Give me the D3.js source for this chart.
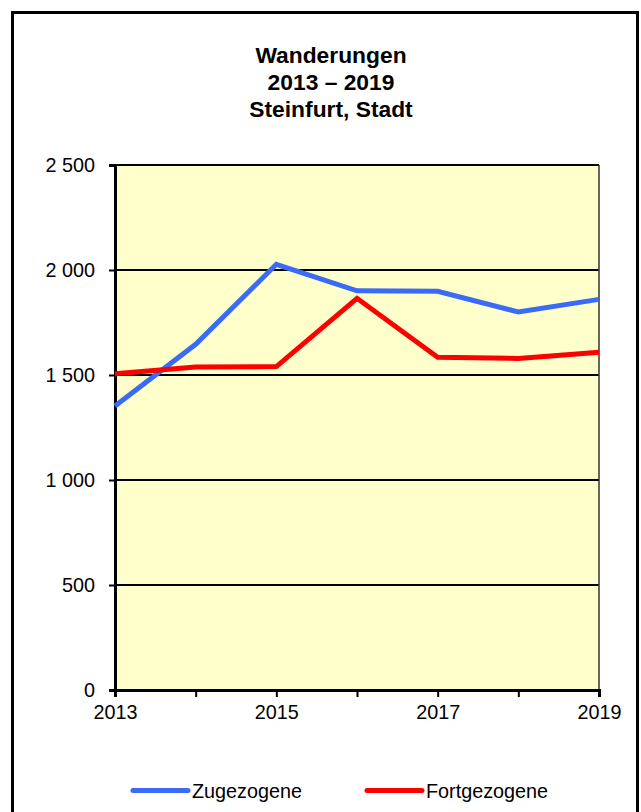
<!DOCTYPE html>
<html>
<head>
<meta charset="utf-8">
<script src="https://cdn.jsdelivr.net/npm/d3@7"></script>
<style>
  html, body { margin: 0; padding: 0; background: #fff; }
  svg { display: block; font-family: "Liberation Sans", Arial, sans-serif; }
</style>
</head>
<body>
<svg id="chart" width="641" height="812"></svg>
<script>
const years = [2013, 2014, 2015, 2016, 2017, 2018, 2019];
const zugezogene = [1352, 1646, 2027, 1901, 1899, 1800, 1860];
const fortgezogene = [1506, 1538, 1540, 1865, 1584, 1579, 1608];
const yTicks = [0, 500, 1000, 1500, 2000, 2500];
const xLabelYears = [2013, 2015, 2017, 2019];
const titleLines = ["Wanderungen", "2013 \u2013 2019", "Steinfurt, Stadt"];
const seriesNames = ["Zugezogene", "Fortgezogene"];
const seriesColors = ["#3a6af8", "#ff0000"];

(function () {
const svg = d3.select("#chart");
const pL = 115, pR = 599, pT = 165, pB = 690;

// outer frame
svg.append("rect").attr("x", 12.5).attr("y", 12.5).attr("width", 625).attr("height", 820)
  .attr("fill", "#fff").attr("stroke", "#000").attr("stroke-width", 3);

// title
svg.append("g").selectAll("text").data(titleLines).join("text")
  .attr("x", 331).attr("y", (d, i) => 63 + i * 27)
  .attr("text-anchor", "middle").attr("font-size", 22.8).attr("font-weight", "bold")
  .attr("fill", "#000").text(d => d);

const x = d3.scaleLinear().domain([years[0], years[years.length - 1]]).range([pL, pR]);
const y = d3.scaleLinear().domain([0, 2500]).range([pB, pT]);

// plot background
svg.append("rect").attr("x", pL).attr("y", pT).attr("width", pR - pL).attr("height", pB - pT)
  .attr("fill", "#ffffcc");

// gridlines
svg.append("g").selectAll("line").data(yTicks.filter(d => d > 0)).join("line")
  .attr("x1", pL).attr("x2", pR).attr("y1", d => y(d)).attr("y2", d => y(d))
  .attr("stroke", "#000").attr("stroke-width", 2);

// right edge
svg.append("line").attr("x1", pR).attr("x2", pR).attr("y1", pT).attr("y2", pB)
  .attr("stroke", "#333").attr("stroke-width", 1.5);

const fmt = d => d >= 1000 ? String(Math.floor(d / 1000)) + " " + d3.format("03d")(d % 1000) : String(d);

// y axis
const yAxis = svg.append("g").attr("transform", `translate(${pL},0)`)
  .call(d3.axisLeft(y).tickValues(yTicks).tickSize(6).tickPadding(14).tickFormat(fmt));
yAxis.select(".domain").attr("stroke", "#000").attr("stroke-width", 3);
yAxis.selectAll(".tick line").attr("stroke", "#000").attr("stroke-width", 2);
yAxis.selectAll(".tick text").attr("font-size", 19.8).attr("fill", "#000")
  .attr("font-family", "'Liberation Sans', Arial, sans-serif");

// x axis
const xAxis = svg.append("g").attr("transform", `translate(0,${pB})`)
  .call(d3.axisBottom(x).tickValues(years).tickSize(7).tickPadding(8)
    .tickFormat(d => xLabelYears.includes(d) ? String(d) : ""));
xAxis.select(".domain").attr("stroke", "#000").attr("stroke-width", 3);
xAxis.selectAll(".tick line").attr("stroke", "#000").attr("stroke-width", 2);
xAxis.selectAll(".tick text").attr("font-size", 19.8).attr("fill", "#000")
  .attr("font-family", "'Liberation Sans', Arial, sans-serif");

// lines
const line = d3.line().x((d, i) => x(years[i])).y(d => y(d));
[zugezogene, fortgezogene].forEach((s, k) => {
  svg.append("path").datum(s).attr("d", line)
    .attr("fill", "none").attr("stroke", seriesColors[k]).attr("stroke-width", 5)
    .attr("stroke-linejoin", "miter");
});

// legend
const legendX = [133, 367];
const lg = svg.append("g");
seriesNames.forEach((n, k) => {
  lg.append("line").attr("x1", legendX[k]).attr("x2", legendX[k] + 55)
    .attr("y1", 790.5).attr("y2", 790.5)
    .attr("stroke", seriesColors[k]).attr("stroke-width", 5).attr("stroke-linecap", "round");
  lg.append("text").attr("x", legendX[k] + 59).attr("y", 797.5)
    .attr("font-size", 19.8).attr("fill", "#000").text(n);
});
})();
</script>
</body>
</html>
